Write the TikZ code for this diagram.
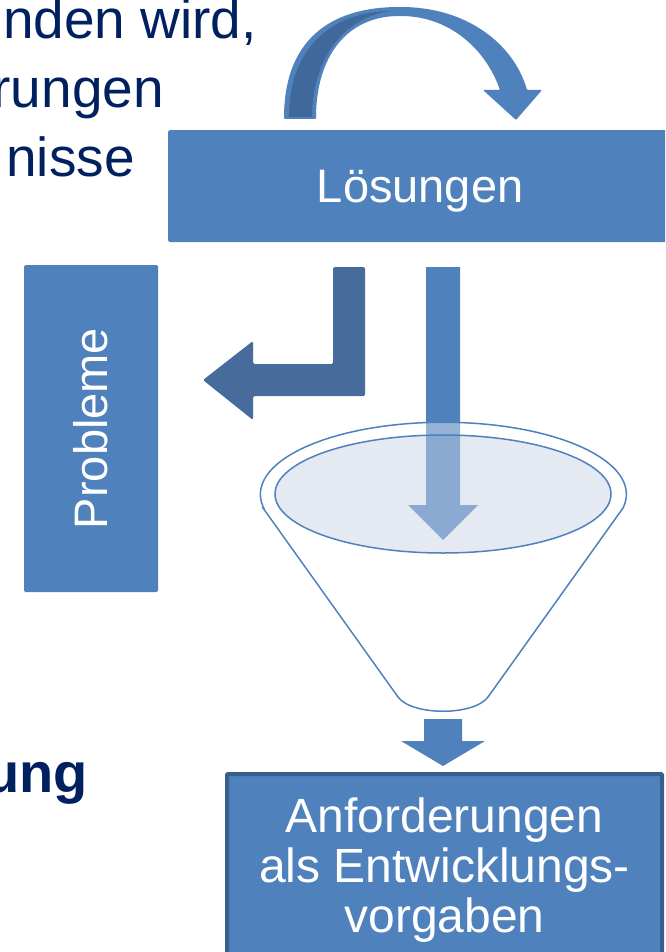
\documentclass[tikz,border=0pt]{standalone}
\usepackage{fontspec}
\setmainfont{Liberation Sans}
\usetikzlibrary{positioning, calc}

\definecolor{boxblue}{RGB}{79,129,189}
\definecolor{stripblue}{RGB}{65,104,154}
\definecolor{bentblue}{RGB}{71,108,155}
\definecolor{borderblue}{RGB}{58,94,140}
\definecolor{navy}{RGB}{0,32,96}
\definecolor{funnelfill}{RGB}{228,233,242}

\begin{document}
\begin{tikzpicture}[
    x=1pt, y=1pt,
    box/.style={fill=boxblue, rounded corners=1.5pt, inner sep=0pt, text=white, align=center, font=\fontsize{47}{50}\selectfont},
    slidetext/.style={text=navy, inner sep=0pt, anchor=base east, font=\fontsize{55}{60}\selectfont},
    funnelline/.style={draw=boxblue, line width=1.5pt}
]
    \clip (0,0) rectangle (665,-952);

    % slide text, cut at the left edge
    \node[slidetext] (zeileA) at (257,-39) {nden wird,};
    \node[slidetext] (zeileB) at (164,-108) {rungen};
    \node[slidetext] (zeileC) at (135,-177) {nisse};
    \node[slidetext, font=\fontsize{56}{60}\selectfont\bfseries] (zeileD) at (88,-792) {ung};

    % boxes
    \node[box, text depth=0pt, minimum width=504pt, minimum height=112pt, anchor=north west] (loesungen) at (168,-130) {Lösungen};
    \node[box, rotate=90, minimum width=327pt, minimum height=134pt] (probleme) at (91,-428.5) {Probleme};

    % curved arrow over the solutions
    \fill[boxblue, rounded corners=1pt] (284,-119) .. controls (284,-40) and (330,-7) .. (400,-7)
        .. controls (468,-7) and (514,-45) .. (527,-90) -- (542,-90) -- (516,-120) -- (483,-90) -- (500,-90)
        .. controls (486,-50) and (450,-16) .. (400,-16) .. controls (348,-16) and (316,-55) .. (316,-119) -- cycle;
    \fill[stripblue] (289,-117) .. controls (289,-45) and (335,-11) .. (392,-11)
        .. controls (348,-15) and (312,-55) .. (312,-117) -- cycle;

    % bent arrow to the problems
    \fill[bentblue, rounded corners=1.5pt] (333,-267) -- (365,-267) -- (365,-396) -- (253,-396) -- (253,-420)
        -- (203,-380) -- (253,-341) -- (253,-364) -- (333,-364) -- cycle;

    % arrow into the funnel
    \fill[boxblue] (426,-267) -- (460,-267) -- (460,-505) -- (478,-505) -- (443,-540) -- (408,-505) -- (426,-505) -- cycle;

    % funnel
    \fill[white] (263,-508) -- (398,-697) .. controls (412,-716) and (474,-716) .. (488,-697) -- (623,-508)
        arc[start angle=-11, end angle=191, x radius=183, y radius=72] -- cycle;
    \path[funnelline] (263,-508) -- (398,-697) .. controls (412,-716) and (474,-716) .. (488,-697) -- (623,-508)
        arc[start angle=-11, end angle=191, x radius=183, y radius=72] -- cycle;
    \path[funnelline, fill=funnelfill] (443,-494) ellipse[x radius=168, y radius=59];
    \begin{scope}
        \clip (263,-508) -- (398,-697) .. controls (412,-716) and (474,-716) .. (488,-697) -- (623,-508)
            arc[start angle=-11, end angle=191, x radius=183, y radius=72] -- cycle;
        \fill[boxblue, fill opacity=0.6] (426,-267) -- (460,-267) -- (460,-505) -- (478,-505) -- (443,-540) -- (408,-505) -- (426,-505) -- cycle;
    \end{scope}

    % arrow out of the funnel
    \fill[boxblue] (424,-719) -- (462,-719) -- (462,-741) -- (485,-741) -- (443,-766) -- (401,-741) -- (424,-741) -- cycle;

    \node[box, draw=borderblue, line width=4pt, rounded corners=1pt, minimum width=435pt, minimum height=192pt,
        anchor=north west, font=\fontsize{48}{50}\selectfont] (anforderungen) at (225,-772)
        {Anforderungen\\als Entwicklungs-\\vorgaben};
\end{tikzpicture}
\end{document}
